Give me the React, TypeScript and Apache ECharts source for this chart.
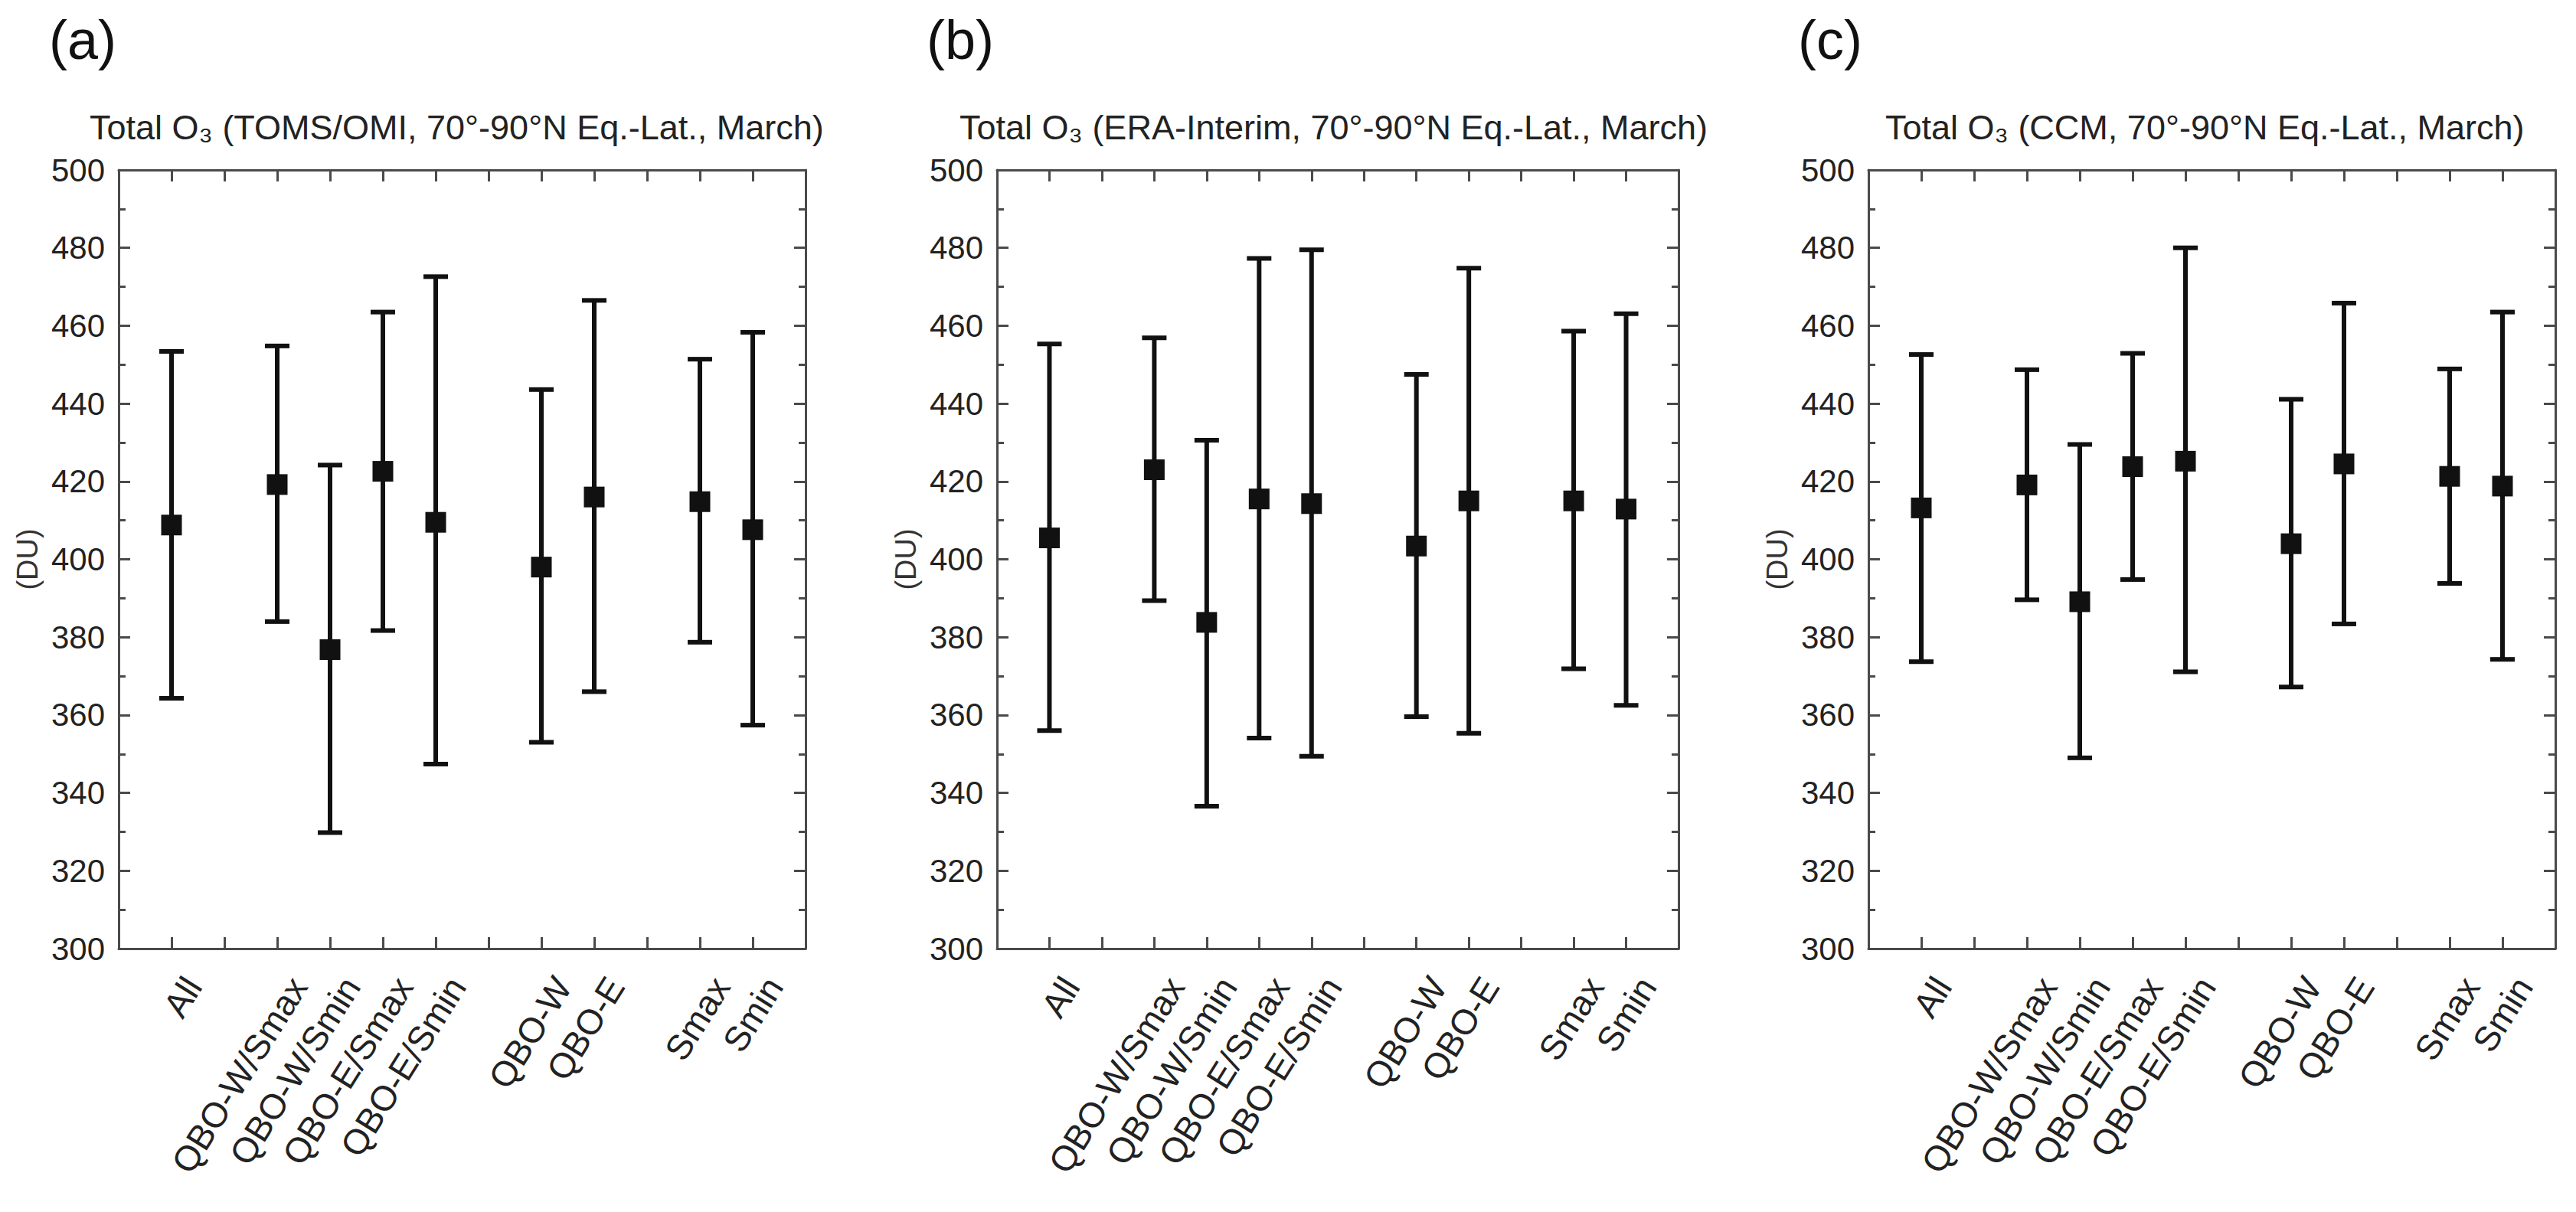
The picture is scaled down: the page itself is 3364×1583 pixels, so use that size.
import React, { useEffect, useRef } from 'react';
import * as echarts from 'echarts';

// ---------- data ----------
const categories = ['All', 'QBO-W/Smax', 'QBO-W/Smin', 'QBO-E/Smax', 'QBO-E/Smin', 'QBO-W', 'QBO-E', 'Smax', 'Smin'];
const categoryPositions = [1, 3, 4, 5, 6, 8, 9, 11, 12];

const panelLetters = ['(a)', '(b)', '(c)'];
const panelTitles = [
  'Total O\u2083 (TOMS/OMI, 70°-90°N Eq.-Lat., March)',
  'Total O\u2083 (ERA-Interim, 70°-90°N Eq.-Lat., March)',
  'Total O\u2083 (CCM, 70°-90°N Eq.-Lat., March)',
];

const meanA = [408.8, 419.2, 376.8, 422.6, 409.5, 398.0, 416.0, 414.8, 407.6];
const upperA = [453.4, 454.8, 424.2, 463.5, 472.6, 443.6, 466.5, 451.4, 458.3];
const lowerA = [364.3, 384.0, 329.8, 381.7, 347.4, 353.0, 366.0, 378.7, 357.4];

const meanB = [405.5, 423.0, 383.8, 415.5, 414.3, 403.4, 415.0, 415.0, 412.9];
const upperB = [455.3, 456.9, 430.6, 477.3, 479.5, 447.5, 474.8, 458.6, 463.1];
const lowerB = [356.0, 389.4, 336.6, 354.1, 349.4, 359.6, 355.3, 371.9, 362.5];

const meanC = [413.2, 419.1, 389.1, 423.8, 425.2, 404.0, 424.5, 421.3, 418.8];
const upperC = [452.6, 448.7, 429.5, 452.9, 480.0, 441.1, 465.8, 448.9, 463.5];
const lowerC = [373.7, 389.6, 349.0, 394.8, 371.1, 367.2, 383.4, 393.8, 374.3];

const yMin = 300;
const yMax = 500;
const yStep = 20;
const xMin = 0;
const xMax = 13;
const yName = '(DU)';

const panels = [
  { mean: meanA, upper: upperA, lower: lowerA },
  { mean: meanB, upper: upperB, lower: lowerB },
  { mean: meanC, upper: upperC, lower: lowerC },
];

// ---------- layout / style ----------
const W = 3364;
const H = 1583;
const gridTop = 222;
const gridHeight = 1017;
const gridLayout = [
  { left: 155, width: 897, titleX: 117, letterX: 64 },
  { left: 1302, width: 890, titleX: 1253, letterX: 1210 },
  { left: 2440, width: 897, titleX: 2462, letterX: 2348 },
];
const FONT = '"Liberation Sans", Arial, Helvetica, sans-serif';
const axisColor = '#4a4a4a';
const inkColor = '#111';

function labelAt(v: number): string {
  const r = Math.round(v);
  const idx = categoryPositions.indexOf(r);
  return idx >= 0 && Math.abs(v - r) < 1e-6 ? categories[idx] : '';
}

function buildOption() {
  const grid: any[] = [];
  const xAxis: any[] = [];
  const yAxis: any[] = [];
  const series: any[] = [];
  const graphic: any[] = [];

  gridLayout.forEach((g, i) => {
    grid.push({ left: g.left, top: gridTop, width: g.width, height: gridHeight, containLabel: false });

    const lineStyle = { color: axisColor, width: 3 };
    const baseX = {
      type: 'value',
      gridIndex: i,
      min: xMin,
      max: xMax,
      interval: 1,
      axisLine: { show: true, onZero: false, lineStyle },
      axisTick: { show: true, inside: true, length: 15, lineStyle },
      splitLine: { show: false },
    };
    xAxis.push({
      ...baseX,
      position: 'bottom',
      axisLabel: {
        show: true,
        rotate: 58,
        margin: 24,
        fontSize: 46,
        fontFamily: FONT,
        color: '#222',
        verticalAlign: 'top',
        lineHeight: 66,
        formatter: (v: number) => labelAt(v),
      },
    });
    xAxis.push({ ...baseX, position: 'top', axisLabel: { show: false } });

    const baseY = {
      type: 'value',
      gridIndex: i,
      min: yMin,
      max: yMax,
      interval: yStep,
      axisLine: { show: true, onZero: false, lineStyle },
      axisTick: { show: true, inside: true, length: 15, lineStyle },
      minorTick: { show: true, splitNumber: 2, length: 9, lineStyle },
      splitLine: { show: false },
      minorSplitLine: { show: false },
    };
    yAxis.push({
      ...baseY,
      position: 'left',
      name: yName,
      nameLocation: 'middle',
      nameGap: 100,
      nameTextStyle: { fontSize: 38, fontFamily: FONT, color: '#333' },
      axisLabel: { show: true, fontSize: 42, fontFamily: FONT, color: '#222', margin: 18 },
    });
    yAxis.push({ ...baseY, position: 'right', axisLabel: { show: false } });

    const p = panels[i];
    const barData = categoryPositions.map((x, k) => [x, p.lower[k], p.upper[k]]);
    const pointData = categoryPositions.map((x, k) => [x, p.mean[k]]);

    series.push({
      type: 'custom',
      xAxisIndex: 2 * i,
      yAxisIndex: 2 * i,
      data: barData,
      encode: { x: 0, y: [1, 2] },
      renderItem: (_params: any, api: any) => {
        const x = api.value(0);
        const lo = api.value(1);
        const hi = api.value(2);
        const top = api.coord([x, hi]);
        const bot = api.coord([x, lo]);
        const hw = 16;
        const style = { stroke: inkColor, lineWidth: 6 };
        return {
          type: 'group',
          children: [
            { type: 'line', shape: { x1: top[0], y1: top[1], x2: bot[0], y2: bot[1] }, style },
            { type: 'line', shape: { x1: top[0] - hw, y1: top[1], x2: top[0] + hw, y2: top[1] }, style },
            { type: 'line', shape: { x1: bot[0] - hw, y1: bot[1], x2: bot[0] + hw, y2: bot[1] }, style },
          ],
        };
      },
      z: 2,
    });
    series.push({
      type: 'scatter',
      xAxisIndex: 2 * i,
      yAxisIndex: 2 * i,
      data: pointData,
      symbol: 'rect',
      symbolSize: 27,
      itemStyle: { color: inkColor, opacity: 1 },
      z: 3,
    });

    graphic.push({
      type: 'text',
      left: g.letterX,
      top: 16,
      style: { text: panelLetters[i], fontSize: 72, fontFamily: FONT, fill: '#111' },
    });
    graphic.push({
      type: 'text',
      x: g.titleX,
      y: 166,
      style: {
        text: panelTitles[i],
        fontSize: 45,
        fontFamily: FONT,
        fill: '#222',
        textAlign: 'left',
        textVerticalAlign: 'middle',
      },
    });
  });

  return {
    animation: false,
    backgroundColor: '#ffffff',
    grid,
    xAxis,
    yAxis,
    series,
    graphic,
  };
}

export default function App() {
  const ref = useRef<HTMLDivElement>(null);
  useEffect(() => {
    if (!ref.current) return;
    const chart = echarts.init(ref.current, null, { renderer: 'svg' });
    chart.setOption(buildOption() as any);
    return () => chart.dispose();
  }, []);
  return (
    <div
      ref={ref}
      style={{ position: 'fixed', left: 0, top: 0, width: W, height: H, background: '#fff' }}
    />
  );
}
